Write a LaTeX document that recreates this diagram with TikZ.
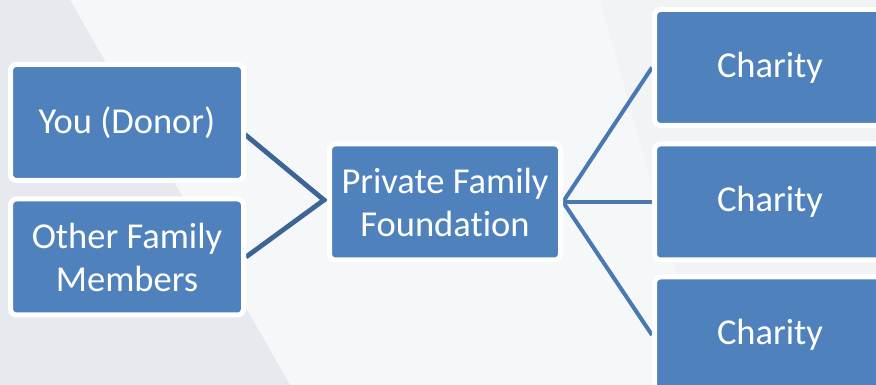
\documentclass[tikz,border=0pt]{standalone}
\usepackage{fontspec}
\setmainfont{Carlito}[Ligatures=NoCommon]
\usetikzlibrary{calc,backgrounds}
\definecolor{boxblue}{HTML}{4F81BD}
\definecolor{linedark}{HTML}{3C6496}
\definecolor{linelight}{HTML}{4A78B2}
\definecolor{bgleft}{HTML}{E6EAEE}
\definecolor{bgmid}{HTML}{F6F7F9}
\definecolor{bgright}{HTML}{F1F3F5}
\begin{document}
\begin{tikzpicture}[x=1pt,y=1pt,
  card/.style={rectangle, rounded corners=6pt, fill=boxblue, draw=white, line width=5pt,
    minimum width=233pt, minimum height=116pt, text=white, align=center,
    font=\fontsize{36.5}{43}\selectfont, inner sep=0pt},
  widecard/.style={card, minimum width=231pt},
  linkdark/.style={draw=linedark, line width=4.8pt},
  linklight/.style={draw=linelight, line width=4pt}]
\useasboundingbox (0,0) rectangle (876,385);
% boxes
\node[widecard] (found) at (445,183) {Private Family\\Foundation};
\node[card] (you) at (127,262.5) {You (Donor)};
\node[card] (other) at (127,128) {Other Family\\Members};
\node[widecard] (c1) at (770,317.5) {Charity};
\node[widecard] (c2) at (770,183) {Charity};
\node[widecard] (c3) at (770,50) {Charity};
\coordinate (lapex) at ($(found.west)+(-3,2)$);
\coordinate (rapex) at ($(found.east)+(0,0)$);
\coordinate (youout) at ($(you.east)+(-1,-12)$);
\begin{scope}[on background layer]
\fill[bgright] (0,0) rectangle (876,385);
\fill[bgmid] (70,385) -- (600,385) -- (708,0) -- (290,0) -- cycle;
\fill[bgleft] (0,385) -- (70,385) -- (290,0) -- (0,0) -- cycle;
\draw[linkdark] (youout) -- (lapex) -- (other.east);
\draw[linklight] (c1.west) -- (rapex) -- (c3.west);
\draw[linklight] (rapex) -- (c2.west);
\end{scope}
\end{tikzpicture}
\end{document}
